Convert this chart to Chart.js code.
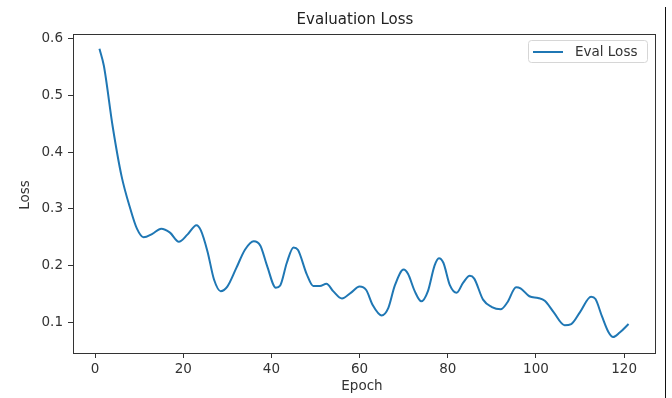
<!DOCTYPE html>
<html>
<head>
<meta charset="utf-8">
<script src="https://cdn.jsdelivr.net/npm/chart.js@4/dist/chart.umd.min.js"></script>
<style>
  html, body { margin: 0; padding: 0; background: #fff; }
  #wrap { width: 672px; height: 398px; }
</style>
</head>
<body>
<div id="wrap"><canvas id="my-chart" width="672" height="398"></canvas></div>
<script>
'use strict';

// data (epoch, loss) at the turning points of the curve
let epochs = [1, 2, 4, 6, 8, 9.5, 11, 13, 15, 17, 19, 21, 23, 24, 25.5, 27, 28.5, 30, 32, 34,
  36, 37.5, 39, 41, 42, 43.5, 45, 46, 48, 49.5, 51, 52.5, 54, 56, 58, 60, 61.5, 63, 65, 66.5,
  68, 70, 71, 72.5, 74, 75.5, 77, 78, 79, 80.5, 82, 83.5, 85, 86, 88, 90, 92, 93.5, 95.5, 96.5,
  98.5, 100.5, 102, 104, 106.5, 108, 110, 112.5, 113.5, 115, 116.5, 117.5, 119, 121];
let evalLoss = [0.582, 0.552, 0.445, 0.358, 0.300, 0.265, 0.250, 0.256, 0.265, 0.258, 0.242, 0.255, 0.271, 0.262, 0.225, 0.175, 0.155, 0.163, 0.195, 0.228,
  0.243, 0.235, 0.200, 0.161, 0.165, 0.205, 0.232, 0.228, 0.185, 0.164, 0.164, 0.168, 0.155, 0.142, 0.152, 0.163, 0.157, 0.130, 0.112, 0.125,
  0.165, 0.193, 0.185, 0.155, 0.137, 0.155, 0.200, 0.213, 0.205, 0.165, 0.152, 0.170, 0.182, 0.177, 0.140, 0.127, 0.123, 0.135, 0.162, 0.160,
  0.146, 0.143, 0.138, 0.118, 0.095, 0.097, 0.118, 0.145, 0.141, 0.110, 0.082, 0.074, 0.082, 0.097];

// tick labels
let xTicks = [0, 20, 40, 60, 80, 100, 120];
let yTicks = [0.1, 0.2, 0.3, 0.4, 0.5, 0.6];

let seriesName = 'Eval Loss';
let lineColor = '#1f77b4';
let inkColor = '#333333';
let fontFamily = '"DejaVu Sans", sans-serif';
let tickSize = 13.5;

let points = [];
for (let i = 0; i < epochs.length; i++) {
  points.push({ x: epochs[i], y: evalLoss[i] });
}

// matplotlib style frame, title, axis labels, legend, page edge line
let decorations = {
  id: 'decorations',
  afterDraw(chart) {
    let c = chart.ctx;
    let a = chart.chartArea;
    c.save();
    c.strokeStyle = inkColor;
    c.lineWidth = 1;
    c.strokeRect(a.left + 0.5, a.top + 0.5, a.right - a.left, a.bottom - a.top);

    c.fillStyle = '#222';
    c.textAlign = 'center';
    c.textBaseline = 'middle';
    c.font = '15px ' + fontFamily;
    c.fillText('Evaluation Loss', 355, 20);

    c.font = tickSize + 'px ' + fontFamily;
    c.fillStyle = inkColor;
    c.fillText('Epoch', 362, 386);
    c.save();
    c.translate(25, 195);
    c.rotate(-Math.PI / 2);
    c.fillText('Loss', 0, 0);
    c.restore();

    // legend box
    c.strokeStyle = '#d6d6d6';
    c.fillStyle = 'rgba(255,255,255,0.8)';
    c.beginPath();
    c.roundRect(528.5, 40.5, 119, 22, 3);
    c.fill();
    c.stroke();
    c.strokeStyle = lineColor;
    c.lineWidth = 2;
    c.beginPath();
    c.moveTo(533, 52);
    c.lineTo(563, 52);
    c.stroke();
    c.fillStyle = inkColor;
    c.textAlign = 'left';
    c.fillText(seriesName, 575, 52);

    // dark edge line at right of the picture
    c.strokeStyle = '#111';
    c.lineWidth = 1;
    c.beginPath();
    c.moveTo(665.5, 7);
    c.lineTo(665.5, 398);
    c.stroke();
    c.restore();
  }
};

let ctx = document.getElementById('my-chart');

let chartObject = {
  type: 'line',
  data: {
    datasets: [{
      label: seriesName,
      data: points,
      borderColor: lineColor,
      borderWidth: 2,
      pointRadius: 0,
      fill: false,
      cubicInterpolationMode: 'monotone'
    }]
  },
  options: {
    responsive: false,
    animation: false,
    layout: { padding: { left: 0, right: 17, top: 34, bottom: 0 } },
    plugins: {
      legend: { display: false },
      title: { display: false },
      tooltip: { enabled: false }
    },
    scales: {
      x: {
        type: 'linear',
        min: -5,
        max: 127,
        afterBuildTicks(scale) {
          scale.ticks = xTicks.map(v => ({ value: v }));
        },
        afterFit(scale) { scale.height = 45; },
        grid: { drawOnChartArea: false, drawTicks: true, tickLength: 5, color: inkColor },
        border: { display: true, color: inkColor },
        ticks: {
          color: inkColor,
          padding: 3,
          maxRotation: 0,
          font: { family: fontFamily, size: tickSize },
          callback: v => String(v)
        }
      },
      y: {
        type: 'linear',
        min: 0.046,
        max: 0.608,
        afterBuildTicks(scale) {
          scale.ticks = yTicks.map(v => ({ value: v }));
        },
        afterFit(scale) { scale.width = 73; },
        grid: { drawOnChartArea: false, drawTicks: true, tickLength: 5, color: inkColor },
        border: { display: true, color: inkColor },
        ticks: {
          color: inkColor,
          padding: 5,
          font: { family: fontFamily, size: tickSize },
          callback: v => v.toFixed(1)
        }
      }
    }
  },
  plugins: [decorations]
};

const myChart = new Chart(ctx, chartObject);
</script>
</body>
</html>
